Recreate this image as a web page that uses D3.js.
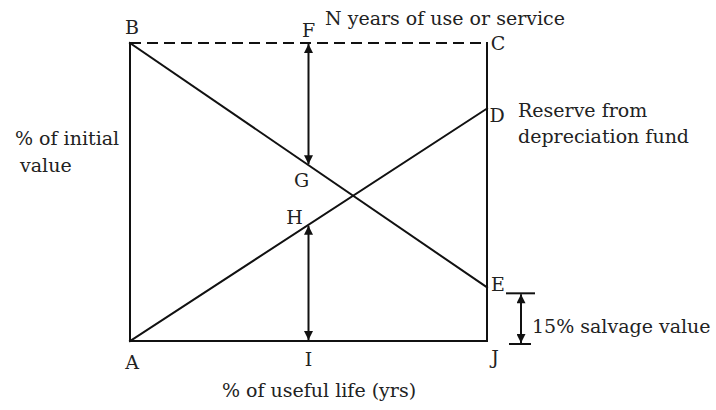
<!DOCTYPE html>
<html>
<head>
<meta charset="utf-8">
<script src="https://cdn.jsdelivr.net/npm/d3@7"></script>
<style>
  body { margin: 0; background: #fff; }
</style>
</head>
<body>
<svg id="svg" width="716" height="410"></svg>
<script>
// point names and their values (% of useful life, % of initial value)
const pointNames = ["A", "B", "C", "D", "E", "F", "G", "H", "I", "J"];
const lifePct = [0, 0, 100, 100, 100, 50, 50, 50, 50, 100];
const valuePct = [0, 100, 100, 78, 18, 100, 59, 39, 0, 0];

// salvage bracket range (% of initial value)
const salvageRange = [16, -1];

// annotations
const xTitle = "% of useful life (yrs)";
const yTitle = ["% of initial", "value"];
const topNote = "N years of use or service";
const reserveNote = ["Reserve from", "depreciation fund"];
const salvageNote = "15% salvage value";

const FONT = "'DejaVu Serif', serif";

var svg = d3.select("#svg");

var scaleX = d3.scaleLinear()
        .domain([0, 100])
        .range([130, 487]);

var scaleY = d3.scaleLinear()
        .domain([0, 100])
        .range([341, 43]);

//lookup a point by its name
var pts = {};
pointNames.forEach((n, i) => {
    pts[n] = {name: n, x: scaleX(lifePct[i]), y: scaleY(valuePct[i])};
});

//arrow heads
var defs = svg.append("defs");
defs.append("marker")
        .attr("id", "head")
        .attr("viewBox", "0 0 10 10")
        .attr("refX", 10)
        .attr("refY", 5)
        .attr("markerWidth", 10)
        .attr("markerHeight", 9)
        .attr("markerUnits", "userSpaceOnUse")
        .attr("orient", "auto-start-reverse")
        .append("path")
        .attr("d", "M0,0 L10,5 L0,10 Z")
        .attr("fill", "#111");

//solid frame lines: A-B, A-J, C-J and the two diagonals
var solid = [["A", "B"], ["A", "J"], ["C", "J"], ["B", "E"], ["A", "D"]];
svg.append("g")
        .selectAll("line")
        .data(solid)
        .enter()
        .append("line")
        .attr("x1", (d) => pts[d[0]].x)
        .attr("y1", (d) => pts[d[0]].y)
        .attr("x2", (d) => pts[d[1]].x)
        .attr("y2", (d) => pts[d[1]].y)
        .attr("stroke", "#111")
        .attr("stroke-width", 2)
        .attr("stroke-linecap", "square");

//dashed top line B-C
svg.append("line")
        .attr("x1", pts.B.x)
        .attr("y1", pts.B.y)
        .attr("x2", pts.C.x - 2)
        .attr("y2", pts.C.y)
        .attr("stroke", "#111")
        .attr("stroke-width", 2)
        .attr("stroke-dasharray", "11,6");

//double arrows F-G and H-I
var arrows = [["F", "G"], ["H", "I"]];
svg.append("g")
        .selectAll("line")
        .data(arrows)
        .enter()
        .append("line")
        .attr("x1", (d) => pts[d[0]].x)
        .attr("y1", (d) => pts[d[0]].y + 1)
        .attr("x2", (d) => pts[d[1]].x)
        .attr("y2", (d) => pts[d[1]].y - 1)
        .attr("stroke", "#111")
        .attr("stroke-width", 2)
        .attr("marker-start", "url(#head)")
        .attr("marker-end", "url(#head)");

//salvage bracket
var sx = 521;
var sTop = scaleY(salvageRange[0]);
var sBot = scaleY(salvageRange[1]);
svg.append("line")
        .attr("x1", 506).attr("x2", 535)
        .attr("y1", sTop).attr("y2", sTop)
        .attr("stroke", "#111").attr("stroke-width", 2);
svg.append("line")
        .attr("x1", 509).attr("x2", 531)
        .attr("y1", sBot).attr("y2", sBot)
        .attr("stroke", "#111").attr("stroke-width", 2);
svg.append("line")
        .attr("x1", sx).attr("x2", sx)
        .attr("y1", sTop + 1).attr("y2", sBot - 1)
        .attr("stroke", "#111").attr("stroke-width", 2)
        .attr("marker-start", "url(#head)")
        .attr("marker-end", "url(#head)");

//point letters, offset from their points
var labelOffset = {
    A: [2, 28], B: [2, -9], C: [11, 7], D: [10, 13], E: [11, 4],
    F: [0, -6], G: [-7, 22], H: [-14, -1], I: [0, 25], J: [8, 23]
};
svg.append("g")
        .selectAll("text")
        .data(pointNames)
        .enter()
        .append("text")
        .attr("x", (d) => pts[d].x + labelOffset[d][0])
        .attr("y", (d) => pts[d].y + labelOffset[d][1])
        .attr("text-anchor", "middle")
        .attr("font-family", FONT)
        .attr("font-size", 19)
        .attr("fill", "#222")
        .text((d) => d);

//notes
function addText(x, y, str) {
    svg.append("text")
            .attr("x", x)
            .attr("y", y)
            .attr("font-family", FONT)
            .attr("font-size", 19)
            .attr("fill", "#222")
            .text(str);
}
addText(325, 25, topNote);
addText(518, 117, reserveNote[0]);
addText(518, 143, reserveNote[1]);
addText(15, 145, yTitle[0]);
addText(20, 172, yTitle[1]);
addText(532, 333, salvageNote);
addText(222, 397, xTitle);
</script>
</body>
</html>
